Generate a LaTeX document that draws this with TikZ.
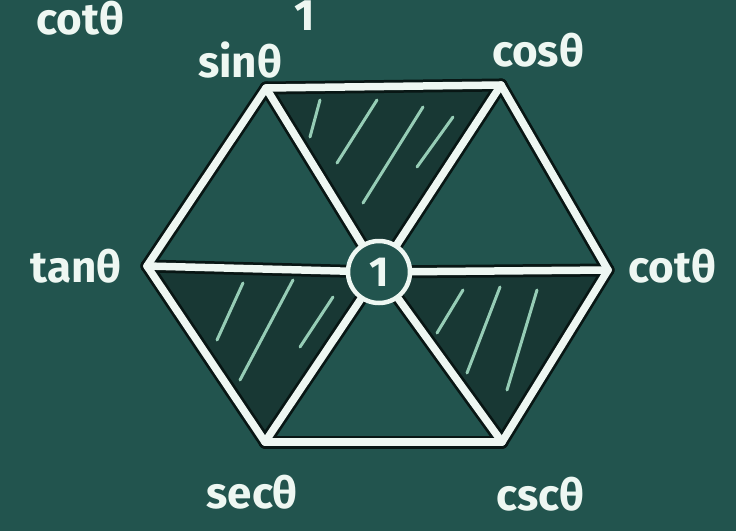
\documentclass[tikz,border=0pt]{standalone}
\usepackage{fontspec}
\setmainfont{Fira Sans}
\definecolor{board}{RGB}{34,84,78}
\definecolor{darkfill}{RGB}{24,56,52}
\definecolor{chalk}{RGB}{238,247,242}
\definecolor{hatch}{RGB}{150,205,182}
\definecolor{halo}{RGB}{8,22,20}
\pgfdeclarelayer{bg}
\pgfsetlayers{bg,main}
\begin{document}
\begin{tikzpicture}[x=1pt,y=-1pt,
  lbl/.style={text=chalk,font=\fontsize{44}{44}\selectfont\bfseries,inner sep=0pt},
  ring/.style={circle,draw=chalk,line width=4.5pt,fill=board,minimum size=62pt,inner sep=0pt,
    text=chalk,font=\fontsize{42}{42}\selectfont\bfseries},
  hatchline/.style={draw=hatch,line width=3pt,line cap=round}]
\useasboundingbox (0,0) rectangle (736,531);
% vertices
\coordinate (sin) at (266,88);
\coordinate (cos) at (501,85);
\coordinate (cot) at (608,270);
\coordinate (csc) at (502,442);
\coordinate (sec) at (265,442);
\coordinate (tan) at (147,266);
\node[ring] (c) at (379,272) {1};
% labels
\node[lbl] (lsin) at (240,60) {sinθ};
\node[lbl] (lcos) at (538,50) {cosθ};
\node[lbl] (ltan) at (76,266) {tanθ};
\node[lbl] (lcot) at (672,266) {cotθ};
\node[lbl] (lsec) at (252,492) {secθ};
\node[lbl] (lcsc) at (540,494) {cscθ};
\node[lbl,anchor=north] (lcot2) at (80,1) {cotθ};
\node[lbl,anchor=north] (lone) at (305,1) {1};
\begin{pgfonlayer}{bg}
\fill[board] (0,0) rectangle (736,531);
\fill[darkfill] (sin) -- (cos) -- (c.center) -- cycle;
\fill[darkfill] (tan) -- (c.center) -- (sec) -- cycle;
\fill[darkfill] (c.center) -- (cot) -- (csc) -- cycle;
% hatching
\draw[hatchline] (320,100) -- (310,137);
\draw[hatchline] (377,100) -- (337,163);
\draw[hatchline] (423,107) -- (363,203);
\draw[hatchline] (453,117) -- (417,167);
\draw[hatchline] (243,283) -- (217,340);
\draw[hatchline] (293,280) -- (240,380);
\draw[hatchline] (333,297) -- (300,347);
\draw[hatchline] (463,290) -- (437,333);
\draw[hatchline] (500,287) -- (467,373);
\draw[hatchline] (537,290) -- (507,390);
% edges
\foreach \w/\col in {13/halo,7.5/chalk}{
  \foreach \a/\b in {sin/cos,cos/cot,cot/csc,csc/sec,sec/tan,tan/sin,
                     sin/c,c/csc,cos/c,c/sec,tan/c,c/cot}
    \draw[draw=\col,line width=\w pt,line cap=round] (\a) -- (\b);
}
\end{pgfonlayer}
\end{tikzpicture}
\end{document}
